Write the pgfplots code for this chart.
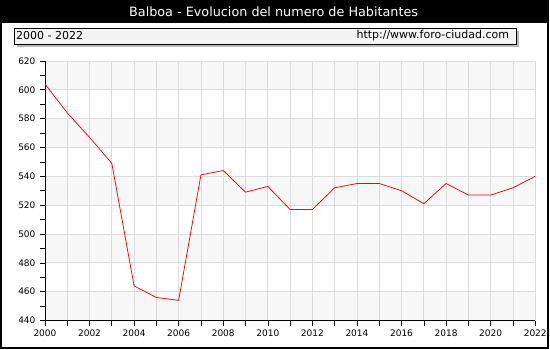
\documentclass[border=0pt]{standalone}
\usepackage{fontspec}
\setmainfont{DejaVu Sans}
\usepackage{pgfplots}
\pgfplotsset{compat=1.18}
\definecolor{band}{HTML}{F7F7F7}
\definecolor{gridc}{HTML}{DCDCDC}
\definecolor{boxfill}{HTML}{F4F4F4}
\begin{document}
\begin{tikzpicture}[x=1pt,y=1pt]
\begin{axis}[
  set layers,
  at={(45pt,29pt)}, anchor=south west,
  width=491pt, height=260pt, scale only axis,
  xmin=2000, xmax=2022, ymin=440, ymax=620,
  axis x line*=bottom, axis y line*=left,
  axis line style={black, line width=0.8pt},
  xtick={2000,2001,...,2022},
  xticklabels={2000,,2002,,2004,,2006,,2008,,2010,,2012,,2014,,2016,,2018,,2020,,2022},
  ytick={440,460,...,620},
  yticklabels={440,460,480,500,520,540,560,580,600,620},
  minor ytick={450,470,...,610},
  tick align=outside,
  major tick length=5pt, minor tick length=5pt,
  tick style={black, line width=0.6pt},
  ticklabel style={font=\fontsize{9}{10}\selectfont},
  grid=major,
  major grid style={gridc, line width=0.8pt},
  minor grid style={draw=none},
  yticklabel style={xshift=-1pt},
  xticklabel style={yshift=-1pt},
  clip=false,
]
\begin{pgfonlayer}{axis background}
\fill[white] ([shift={(-45pt,-29pt)}]axis cs:2000,440) rectangle ([shift={(14pt,61pt)}]axis cs:2022,620);
\fill[band] (axis cs:2000,600) rectangle (axis cs:2022,620);
\fill[band] (axis cs:2000,560) rectangle (axis cs:2022,580);
\fill[band] (axis cs:2000,520) rectangle (axis cs:2022,540);
\fill[band] (axis cs:2000,480) rectangle (axis cs:2022,500);
\fill[band] (axis cs:2000,440) rectangle (axis cs:2022,460);
\end{pgfonlayer}
\addplot[red, line width=0.75pt, mark=none] coordinates {
(2000,604) (2001,584) (2002,567) (2003,549) (2004,464) (2005,456) (2006,454)
(2007,541) (2008,544) (2009,529) (2010,533) (2011,517) (2012,517) (2013,532)
(2014,535) (2015,535) (2016,530) (2017,521) (2018,535) (2019,527) (2020,527)
(2021,532) (2022,540)};
\end{axis}
\fill[black] (0,327) rectangle (550,350);
\draw[black,line width=2pt] (1,1) rectangle (549,349);
\node[white,font=\fontsize{12.8}{14}\selectfont,inner sep=0pt] at (274,338.5) {Balboa - Evolucion del numero de Habitantes};
\fill[gray!55] (17,303) rectangle (520,319);
\filldraw[fill=boxfill,draw=black,line width=0.8pt] (14,306) rectangle (517,322);
\node[anchor=west,font=\fontsize{11}{12}\selectfont,inner sep=0pt] at (16,314) {2000 - 2022};
\node[anchor=east,font=\fontsize{11}{12}\selectfont,inner sep=0pt] at (510,314) {http://www.foro-ciudad.com};
\end{tikzpicture}
\end{document}
